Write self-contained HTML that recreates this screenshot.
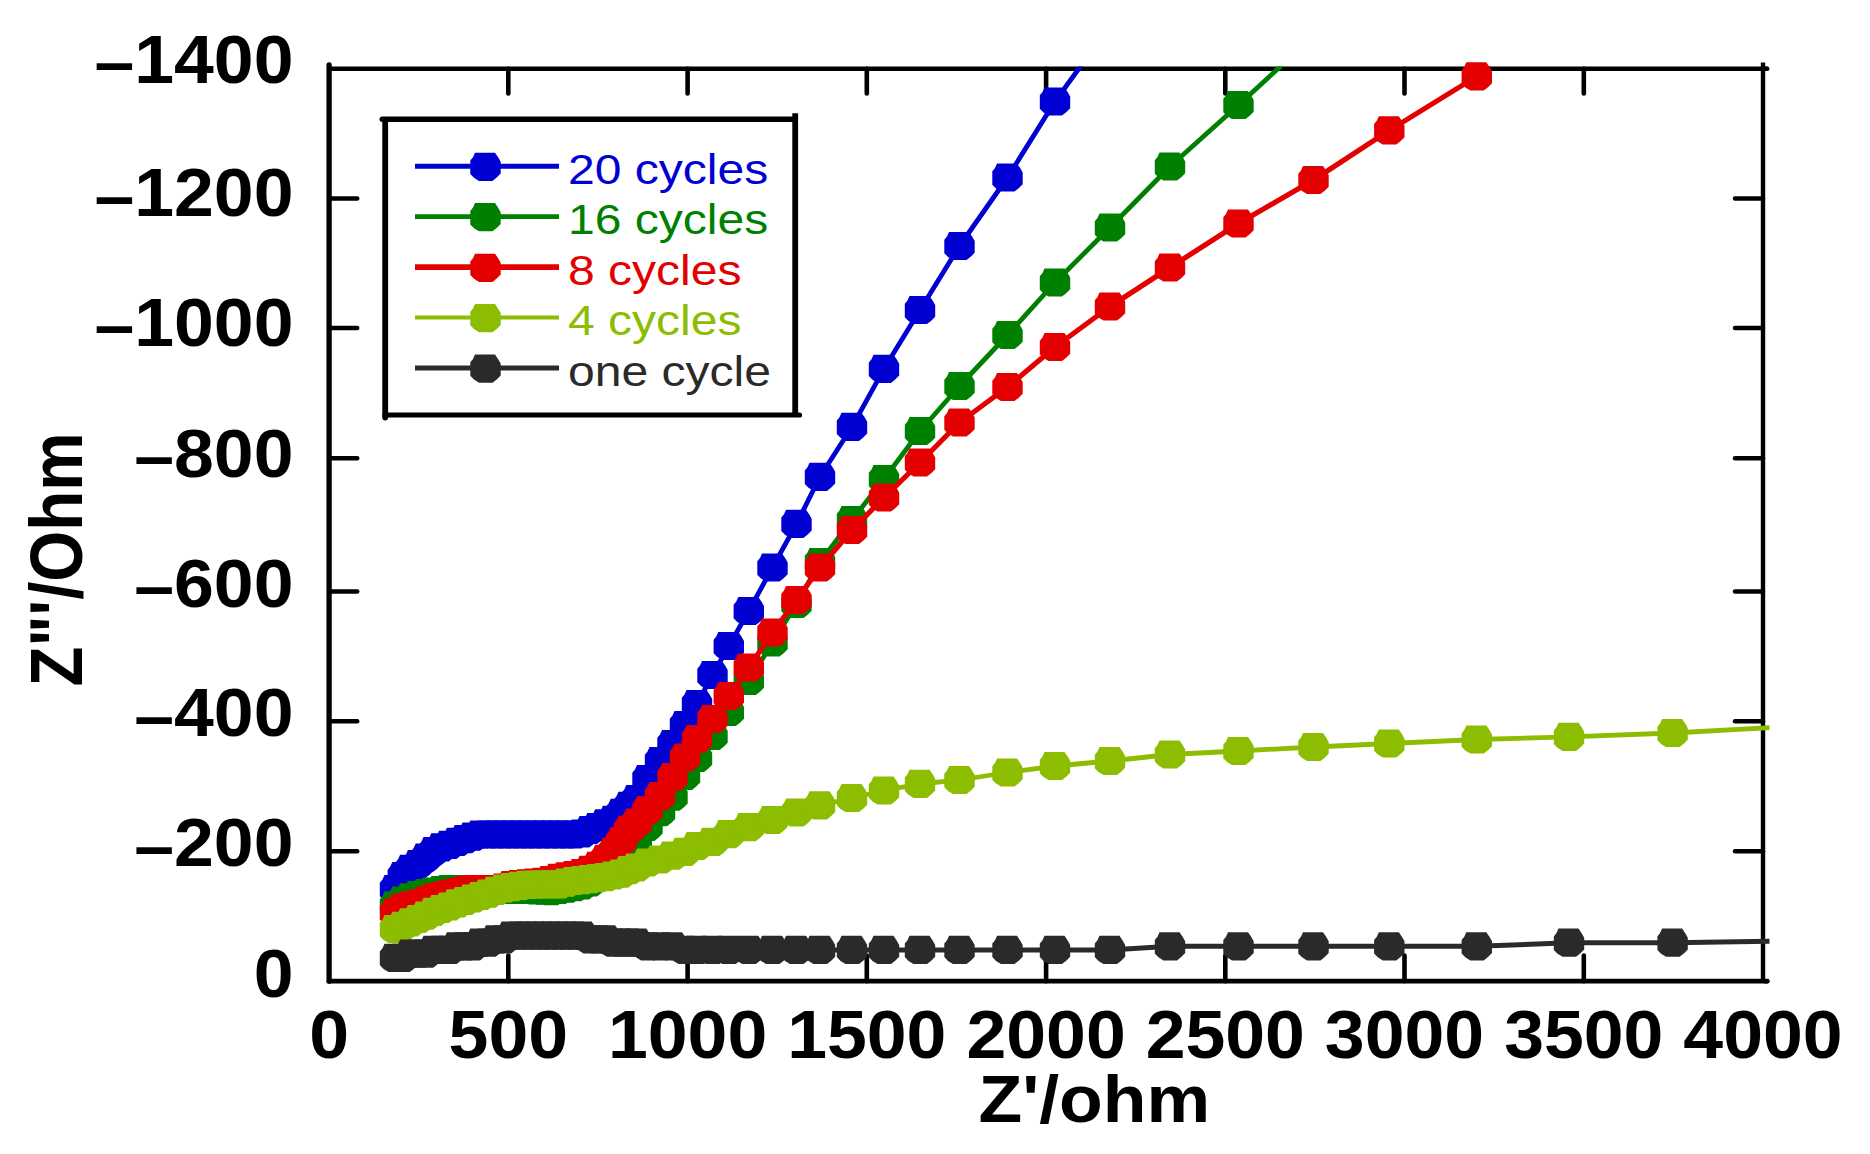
<!DOCTYPE html>
<html lang="en"><head><meta charset="utf-8"><title>Nyquist plot</title>
<style>html,body{margin:0;padding:0;background:#fff}body{width:1870px;height:1154px;overflow:hidden}svg{display:block}text{font-family:"Liberation Sans",sans-serif}.b{font-weight:700;font-size:68px;fill:#000}.l{font-size:43.4px}</style></head><body>
<svg width="1870" height="1154" viewBox="0 0 1870 1154">
<rect width="1870" height="1154" fill="#fff"/>
<defs><clipPath id="c"><rect x="320" y="66.6" width="1449.5" height="940"/></clipPath>
<polygon id="m" points="-10.5,-14.1 9.5,-14.1 12.8,-9.2 15.2,-5 15.2,6.8 11.2,10.8 7,14.1 -6.5,14.1 -11.5,11 -15.2,7.2 -15.2,-6.3 -12.5,-9.6"/></defs>
<g stroke="#000" fill="none" stroke-linecap="butt">
<line x1="329.1" y1="65" x2="329.1" y2="981.2" stroke-width="5.3" stroke-linecap="round"/>
<line x1="1763" y1="62.5" x2="1763" y2="983" stroke-width="4.4"/>
<line x1="327" y1="68.8" x2="1767.5" y2="68.8" stroke-width="4.5" />
<line x1="329" y1="981.2" x2="1767.2" y2="981.2" stroke-width="4.7" stroke-linecap="round"/>
</g>
<g stroke="#000" fill="none" stroke-linecap="round">
<line x1="1765" y1="68.8" x2="1767.3" y2="68.8" stroke-width="4.4"/>
<line x1="1765" y1="981.2" x2="1767.2" y2="981.2" stroke-width="4.6"/>
<line x1="508.3" y1="68.8" x2="508.3" y2="93.5" stroke-width="4.6"/>
<line x1="508.3" y1="981.2" x2="508.3" y2="955.5" stroke-width="4.6"/>
<line x1="687.6" y1="68.8" x2="687.6" y2="93.5" stroke-width="4.6"/>
<line x1="687.6" y1="981.2" x2="687.6" y2="955.5" stroke-width="4.6"/>
<line x1="866.8" y1="68.8" x2="866.8" y2="93.5" stroke-width="4.6"/>
<line x1="866.8" y1="981.2" x2="866.8" y2="955.5" stroke-width="4.6"/>
<line x1="1046.1" y1="68.8" x2="1046.1" y2="93.5" stroke-width="4.6"/>
<line x1="1046.1" y1="981.2" x2="1046.1" y2="955.5" stroke-width="4.6"/>
<line x1="1225.3" y1="68.8" x2="1225.3" y2="93.5" stroke-width="4.6"/>
<line x1="1225.3" y1="981.2" x2="1225.3" y2="955.5" stroke-width="4.6"/>
<line x1="1404.5" y1="68.8" x2="1404.5" y2="93.5" stroke-width="4.6"/>
<line x1="1404.5" y1="981.2" x2="1404.5" y2="955.5" stroke-width="4.6"/>
<line x1="1583.8" y1="68.8" x2="1583.8" y2="93.5" stroke-width="4.6"/>
<line x1="1583.8" y1="981.2" x2="1583.8" y2="955.5" stroke-width="4.6"/>
<line x1="329.1" y1="851.3" x2="357.2" y2="851.3" stroke-width="4.5"/>
<line x1="1763" y1="851.3" x2="1735" y2="851.3" stroke-width="4.5"/>
<line x1="329.1" y1="721.2" x2="357.2" y2="721.2" stroke-width="4.5"/>
<line x1="1763" y1="721.2" x2="1735" y2="721.2" stroke-width="4.5"/>
<line x1="329.1" y1="591.5" x2="357.2" y2="591.5" stroke-width="4.5"/>
<line x1="1763" y1="591.5" x2="1735" y2="591.5" stroke-width="4.5"/>
<line x1="329.1" y1="458.3" x2="357.2" y2="458.3" stroke-width="4.5"/>
<line x1="1763" y1="458.3" x2="1735" y2="458.3" stroke-width="4.5"/>
<line x1="329.1" y1="327.9" x2="357.2" y2="327.9" stroke-width="4.5"/>
<line x1="1763" y1="327.9" x2="1735" y2="327.9" stroke-width="4.5"/>
<line x1="329.1" y1="198.4" x2="357.2" y2="198.4" stroke-width="4.5"/>
<line x1="1763" y1="198.4" x2="1735" y2="198.4" stroke-width="4.5"/>
</g>
<g class="b">
<text transform="translate(329.1,1057.8) scale(1.053,1)" text-anchor="middle">0</text>
<text transform="translate(508.3,1057.8) scale(1.053,1)" text-anchor="middle">500</text>
<text transform="translate(687.6,1057.8) scale(1.053,1)" text-anchor="middle">1000</text>
<text transform="translate(866.8,1057.8) scale(1.053,1)" text-anchor="middle">1500</text>
<text transform="translate(1046.1,1057.8) scale(1.053,1)" text-anchor="middle">2000</text>
<text transform="translate(1225.3,1057.8) scale(1.053,1)" text-anchor="middle">2500</text>
<text transform="translate(1404.5,1057.8) scale(1.053,1)" text-anchor="middle">3000</text>
<text transform="translate(1583.8,1057.8) scale(1.053,1)" text-anchor="middle">3500</text>
<text transform="translate(1763,1057.8) scale(1.053,1)" text-anchor="middle">4000</text>
<text transform="translate(293.5,83.2) scale(1.053,1)" text-anchor="end"><tspan dy="2.2">–</tspan><tspan dy="-2.2">1400</tspan></text>
<text transform="translate(293.5,216.3) scale(1.053,1)" text-anchor="end"><tspan dy="2.2">–</tspan><tspan dy="-2.2">1200</tspan></text>
<text transform="translate(293.5,346.1) scale(1.053,1)" text-anchor="end"><tspan dy="2.2">–</tspan><tspan dy="-2.2">1000</tspan></text>
<text transform="translate(293.5,476.8) scale(1.053,1)" text-anchor="end"><tspan dy="2.2">–</tspan><tspan dy="-2.2">800</tspan></text>
<text transform="translate(293.5,606.8) scale(1.053,1)" text-anchor="end"><tspan dy="2.2">–</tspan><tspan dy="-2.2">600</tspan></text>
<text transform="translate(293.5,736.3) scale(1.053,1)" text-anchor="end"><tspan dy="2.2">–</tspan><tspan dy="-2.2">400</tspan></text>
<text transform="translate(293.5,866.3) scale(1.053,1)" text-anchor="end"><tspan dy="2.2">–</tspan><tspan dy="-2.2">200</tspan></text>
<text transform="translate(293.5,996.6) scale(1.053,1)" text-anchor="end">0</text>
<text transform="translate(1094.3,1121.7) scale(1.077,1)" text-anchor="middle" style="font-size:66.5px">Z'/ohm</text>
<text transform="translate(82.3,559.5) scale(1.127,1) rotate(-90)" text-anchor="middle" style="font-size:65.5px">Z"'/Ohm</text>
</g>
<g fill="#0000d2" stroke="none">
<polyline clip-path="url(#c)" points="395,889 402.8,876 410.6,868.8 418.4,864 426.2,857.7 434,851.1 441.8,847.3 449.6,844.8 457.4,841.9 465.2,839.2 473,836.7 480.8,834.5 488.6,834.5 496.4,834.5 504.2,834.5 512,834.5 519.8,834.5 527.6,834.5 535.4,834.5 543.2,834.5 551,834.5 558.8,834.5 566.6,834.5 574.4,834.5 582.2,833.5 590,830 597.8,827.1 605.6,823.3 613.4,819.8 621.2,812.8 629,805.8 636.8,799 647.5,779 660,761 672.5,744 685,725 697,704 712.5,675 728.8,646 748.8,611 772.5,567.5 796.5,523.8 820,476.8 852,426.8 884,368.8 920,310 959.5,246 1007.5,177.5 1055,101.5 1110,25.6 1170,-60 1238.5,-151.3 1313.5,-251.3 1389.3,-352.4 1476.8,-469.1 1569,-592 1672.6,-730.1 1790,-886.7" fill="none" stroke="#0000d2" stroke-width="4.8" stroke-linejoin="round"/>
<use href="#m" x="395" y="889"/>
<use href="#m" x="402.8" y="876"/>
<use href="#m" x="410.6" y="868.8"/>
<use href="#m" x="418.4" y="864"/>
<use href="#m" x="426.2" y="857.7"/>
<use href="#m" x="434" y="851.1"/>
<use href="#m" x="441.8" y="847.3"/>
<use href="#m" x="449.6" y="844.8"/>
<use href="#m" x="457.4" y="841.9"/>
<use href="#m" x="465.2" y="839.2"/>
<use href="#m" x="473" y="836.7"/>
<use href="#m" x="480.8" y="834.5"/>
<use href="#m" x="488.6" y="834.5"/>
<use href="#m" x="496.4" y="834.5"/>
<use href="#m" x="504.2" y="834.5"/>
<use href="#m" x="512" y="834.5"/>
<use href="#m" x="519.8" y="834.5"/>
<use href="#m" x="527.6" y="834.5"/>
<use href="#m" x="535.4" y="834.5"/>
<use href="#m" x="543.2" y="834.5"/>
<use href="#m" x="551" y="834.5"/>
<use href="#m" x="558.8" y="834.5"/>
<use href="#m" x="566.6" y="834.5"/>
<use href="#m" x="574.4" y="834.5"/>
<use href="#m" x="582.2" y="833.5"/>
<use href="#m" x="590" y="830"/>
<use href="#m" x="597.8" y="827.1"/>
<use href="#m" x="605.6" y="823.3"/>
<use href="#m" x="613.4" y="819.8"/>
<use href="#m" x="621.2" y="812.8"/>
<use href="#m" x="629" y="805.8"/>
<use href="#m" x="636.8" y="799"/>
<use href="#m" x="647.5" y="779"/>
<use href="#m" x="660" y="761"/>
<use href="#m" x="672.5" y="744"/>
<use href="#m" x="685" y="725"/>
<use href="#m" x="697" y="704"/>
<use href="#m" x="712.5" y="675"/>
<use href="#m" x="728.8" y="646"/>
<use href="#m" x="748.8" y="611"/>
<use href="#m" x="772.5" y="567.5"/>
<use href="#m" x="796.5" y="523.8"/>
<use href="#m" x="820" y="476.8"/>
<use href="#m" x="852" y="426.8"/>
<use href="#m" x="884" y="368.8"/>
<use href="#m" x="920" y="310"/>
<use href="#m" x="959.5" y="246"/>
<use href="#m" x="1007.5" y="177.5"/>
<use href="#m" x="1055" y="101.5"/>
</g>
<g fill="#008000" stroke="none">
<polyline clip-path="url(#c)" points="395,905.5 402.8,900.7 410.6,897.4 418.4,895.1 426.2,893 434,891.5 441.8,890.2 449.6,889.1 457.4,889.2 465.2,889.3 473,889.4 480.8,889.5 488.6,889.5 496.4,889.6 504.2,889.7 512,889.8 519.8,889.9 527.6,890 535.4,890.3 543.2,890.7 551,891.2 558.8,890 566.6,888.7 574.4,887.2 582.2,885.3 590,882.4 597.8,876.9 605.6,870.7 613.4,863.6 621.2,856.1 629,849.2 636.8,841.9 647.5,826.8 660,812.1 672.5,796.6 685,775.8 697,758 712.5,736 728.8,712 748.8,681 772.5,642.5 796.5,604 820,562 852,520 884,479 920,431 959.5,386 1007.5,335 1055,282.5 1110,227.5 1170,166.5 1238.5,105 1313.5,36 1389.3,-31.9 1476.8,-110.3 1569,-193 1672.6,-285.8 1790,-391" fill="none" stroke="#008000" stroke-width="4.8" stroke-linejoin="round"/>
<use href="#m" x="395" y="905.5"/>
<use href="#m" x="402.8" y="900.7"/>
<use href="#m" x="410.6" y="897.4"/>
<use href="#m" x="418.4" y="895.1"/>
<use href="#m" x="426.2" y="893"/>
<use href="#m" x="434" y="891.5"/>
<use href="#m" x="441.8" y="890.2"/>
<use href="#m" x="449.6" y="889.1"/>
<use href="#m" x="457.4" y="889.2"/>
<use href="#m" x="465.2" y="889.3"/>
<use href="#m" x="473" y="889.4"/>
<use href="#m" x="480.8" y="889.5"/>
<use href="#m" x="488.6" y="889.5"/>
<use href="#m" x="496.4" y="889.6"/>
<use href="#m" x="504.2" y="889.7"/>
<use href="#m" x="512" y="889.8"/>
<use href="#m" x="519.8" y="889.9"/>
<use href="#m" x="527.6" y="890"/>
<use href="#m" x="535.4" y="890.3"/>
<use href="#m" x="543.2" y="890.7"/>
<use href="#m" x="551" y="891.2"/>
<use href="#m" x="558.8" y="890"/>
<use href="#m" x="566.6" y="888.7"/>
<use href="#m" x="574.4" y="887.2"/>
<use href="#m" x="582.2" y="885.3"/>
<use href="#m" x="590" y="882.4"/>
<use href="#m" x="597.8" y="876.9"/>
<use href="#m" x="605.6" y="870.7"/>
<use href="#m" x="613.4" y="863.6"/>
<use href="#m" x="621.2" y="856.1"/>
<use href="#m" x="629" y="849.2"/>
<use href="#m" x="636.8" y="841.9"/>
<use href="#m" x="647.5" y="826.8"/>
<use href="#m" x="660" y="812.1"/>
<use href="#m" x="672.5" y="796.6"/>
<use href="#m" x="685" y="775.8"/>
<use href="#m" x="697" y="758"/>
<use href="#m" x="712.5" y="736"/>
<use href="#m" x="728.8" y="712"/>
<use href="#m" x="748.8" y="681"/>
<use href="#m" x="772.5" y="642.5"/>
<use href="#m" x="796.5" y="604"/>
<use href="#m" x="820" y="562"/>
<use href="#m" x="852" y="520"/>
<use href="#m" x="884" y="479"/>
<use href="#m" x="920" y="431"/>
<use href="#m" x="959.5" y="386"/>
<use href="#m" x="1007.5" y="335"/>
<use href="#m" x="1055" y="282.5"/>
<use href="#m" x="1110" y="227.5"/>
<use href="#m" x="1170" y="166.5"/>
<use href="#m" x="1238.5" y="105"/>
</g>
<g fill="#e40000" stroke="none">
<polyline clip-path="url(#c)" points="395,912.5 402.8,907.5 410.6,905.5 418.4,903.6 426.2,900.6 434,897.6 441.8,895.5 449.6,893.9 457.4,892.2 465.2,890.1 473,889.1 480.8,889.1 488.6,889 496.4,889 504.2,887.6 512,885.1 519.8,884.1 527.6,883.3 535.4,882.6 543.2,881.8 551,880 558.8,877.8 566.6,876.4 574.4,875.2 582.2,873.2 590,869.8 597.8,865.9 605.6,858.8 613.4,851.5 621.2,841.1 629,829.9 636.8,822.6 647.5,810.1 660,796.2 672.5,777.1 685,757.5 697,739 712.5,719 728.8,696 748.8,667.5 772.5,632.5 796.5,600 820,567.5 852,530 884,497.5 920,462.5 959.5,422.5 1007.5,387 1055,347 1110,306.5 1170,267.5 1238.5,223.5 1313.5,180 1389.3,130.4 1476.8,76.4 1569,-10 1672.6,-63.8 1790,-124.8" fill="none" stroke="#e40000" stroke-width="5.2" stroke-linejoin="round"/>
<use href="#m" x="395" y="912.5"/>
<use href="#m" x="402.8" y="907.5"/>
<use href="#m" x="410.6" y="905.5"/>
<use href="#m" x="418.4" y="903.6"/>
<use href="#m" x="426.2" y="900.6"/>
<use href="#m" x="434" y="897.6"/>
<use href="#m" x="441.8" y="895.5"/>
<use href="#m" x="449.6" y="893.9"/>
<use href="#m" x="457.4" y="892.2"/>
<use href="#m" x="465.2" y="890.1"/>
<use href="#m" x="473" y="889.1"/>
<use href="#m" x="480.8" y="889.1"/>
<use href="#m" x="488.6" y="889"/>
<use href="#m" x="496.4" y="889"/>
<use href="#m" x="504.2" y="887.6"/>
<use href="#m" x="512" y="885.1"/>
<use href="#m" x="519.8" y="884.1"/>
<use href="#m" x="527.6" y="883.3"/>
<use href="#m" x="535.4" y="882.6"/>
<use href="#m" x="543.2" y="881.8"/>
<use href="#m" x="551" y="880"/>
<use href="#m" x="558.8" y="877.8"/>
<use href="#m" x="566.6" y="876.4"/>
<use href="#m" x="574.4" y="875.2"/>
<use href="#m" x="582.2" y="873.2"/>
<use href="#m" x="590" y="869.8"/>
<use href="#m" x="597.8" y="865.9"/>
<use href="#m" x="605.6" y="858.8"/>
<use href="#m" x="613.4" y="851.5"/>
<use href="#m" x="621.2" y="841.1"/>
<use href="#m" x="629" y="829.9"/>
<use href="#m" x="636.8" y="822.6"/>
<use href="#m" x="647.5" y="810.1"/>
<use href="#m" x="660" y="796.2"/>
<use href="#m" x="672.5" y="777.1"/>
<use href="#m" x="685" y="757.5"/>
<use href="#m" x="697" y="739"/>
<use href="#m" x="712.5" y="719"/>
<use href="#m" x="728.8" y="696"/>
<use href="#m" x="748.8" y="667.5"/>
<use href="#m" x="772.5" y="632.5"/>
<use href="#m" x="796.5" y="600"/>
<use href="#m" x="820" y="567.5"/>
<use href="#m" x="852" y="530"/>
<use href="#m" x="884" y="497.5"/>
<use href="#m" x="920" y="462.5"/>
<use href="#m" x="959.5" y="422.5"/>
<use href="#m" x="1007.5" y="387"/>
<use href="#m" x="1055" y="347"/>
<use href="#m" x="1110" y="306.5"/>
<use href="#m" x="1170" y="267.5"/>
<use href="#m" x="1238.5" y="223.5"/>
<use href="#m" x="1313.5" y="180"/>
<use href="#m" x="1389.3" y="130.4"/>
<use href="#m" x="1476.8" y="76.4"/>
</g>
<g fill="#8cbd00" stroke="none">
<polyline clip-path="url(#c)" points="395,929 402.8,925.9 410.6,922.3 418.4,919 426.2,915.6 434,911.9 441.8,909 449.6,906.5 457.4,903.4 465.2,901 473,898.5 480.8,896 488.6,893.6 496.4,890.9 504.2,888.5 512,887.2 519.8,885.8 527.6,884.8 535.4,884.7 543.2,884.5 551,884.4 558.8,884.3 566.6,882.6 574.4,881 582.2,880.1 590,879.1 597.8,878.2 605.6,877.1 613.4,875.5 621.2,873.6 629,870.1 636.8,867.5 647.5,862.5 660,859.5 672.5,855.7 685,851.8 697,846 712.5,841.9 728.8,834.2 748.8,827.1 772.5,820 796.5,812.5 820,805.3 852,798 884,790.5 920,783.8 959.5,780 1007.5,772.5 1055,766 1110,761 1170,754.5 1238.5,751 1313.5,747 1389.3,743.5 1476.8,739.5 1569,736.8 1672.6,733 1790,726.6" fill="none" stroke="#8cbd00" stroke-width="4.8" stroke-linejoin="round"/>
<use href="#m" x="395" y="929"/>
<use href="#m" x="402.8" y="925.9"/>
<use href="#m" x="410.6" y="922.3"/>
<use href="#m" x="418.4" y="919"/>
<use href="#m" x="426.2" y="915.6"/>
<use href="#m" x="434" y="911.9"/>
<use href="#m" x="441.8" y="909"/>
<use href="#m" x="449.6" y="906.5"/>
<use href="#m" x="457.4" y="903.4"/>
<use href="#m" x="465.2" y="901"/>
<use href="#m" x="473" y="898.5"/>
<use href="#m" x="480.8" y="896"/>
<use href="#m" x="488.6" y="893.6"/>
<use href="#m" x="496.4" y="890.9"/>
<use href="#m" x="504.2" y="888.5"/>
<use href="#m" x="512" y="887.2"/>
<use href="#m" x="519.8" y="885.8"/>
<use href="#m" x="527.6" y="884.8"/>
<use href="#m" x="535.4" y="884.7"/>
<use href="#m" x="543.2" y="884.5"/>
<use href="#m" x="551" y="884.4"/>
<use href="#m" x="558.8" y="884.3"/>
<use href="#m" x="566.6" y="882.6"/>
<use href="#m" x="574.4" y="881"/>
<use href="#m" x="582.2" y="880.1"/>
<use href="#m" x="590" y="879.1"/>
<use href="#m" x="597.8" y="878.2"/>
<use href="#m" x="605.6" y="877.1"/>
<use href="#m" x="613.4" y="875.5"/>
<use href="#m" x="621.2" y="873.6"/>
<use href="#m" x="629" y="870.1"/>
<use href="#m" x="636.8" y="867.5"/>
<use href="#m" x="647.5" y="862.5"/>
<use href="#m" x="660" y="859.5"/>
<use href="#m" x="672.5" y="855.7"/>
<use href="#m" x="685" y="851.8"/>
<use href="#m" x="697" y="846"/>
<use href="#m" x="712.5" y="841.9"/>
<use href="#m" x="728.8" y="834.2"/>
<use href="#m" x="748.8" y="827.1"/>
<use href="#m" x="772.5" y="820"/>
<use href="#m" x="796.5" y="812.5"/>
<use href="#m" x="820" y="805.3"/>
<use href="#m" x="852" y="798"/>
<use href="#m" x="884" y="790.5"/>
<use href="#m" x="920" y="783.8"/>
<use href="#m" x="959.5" y="780"/>
<use href="#m" x="1007.5" y="772.5"/>
<use href="#m" x="1055" y="766"/>
<use href="#m" x="1110" y="761"/>
<use href="#m" x="1170" y="754.5"/>
<use href="#m" x="1238.5" y="751"/>
<use href="#m" x="1313.5" y="747"/>
<use href="#m" x="1389.3" y="743.5"/>
<use href="#m" x="1476.8" y="739.5"/>
<use href="#m" x="1569" y="736.8"/>
<use href="#m" x="1672.6" y="733"/>
</g>
<g fill="#2a2a2a" stroke="none">
<polyline clip-path="url(#c)" points="395,957.9 402.8,957.9 410.6,953.6 418.4,953.6 426.2,953.6 434,949.9 441.8,949.9 449.6,949.9 457.4,946.3 465.2,946.3 473,946.3 480.8,942.7 488.6,942.7 496.4,939.3 504.2,939.3 512,935.6 519.8,935.6 527.6,935.6 535.4,935.6 543.2,935.6 551,935.6 558.8,935.6 566.6,935.6 574.4,935.6 582.2,935.6 590,939.3 597.8,939.3 605.6,939.3 613.4,942.7 621.2,942.7 629,942.7 636.8,942.7 647.5,946.3 660,946.3 672.5,946.3 685,949.9 697,949.9 712.5,949.9 728.8,949.9 748.8,949.9 772.5,949.9 796.5,949.9 820,949.9 852,949.9 884,949.9 920,949.9 959.5,949.9 1007.5,949.9 1055,949.9 1110,949.9 1170,946.3 1238.5,946.3 1313.5,946.3 1389.3,946.3 1476.8,946.3 1569,942.7 1672.6,942.7 1790,941" fill="none" stroke="#2a2a2a" stroke-width="5.0" stroke-linejoin="round"/>
<use href="#m" x="395" y="957.9"/>
<use href="#m" x="402.8" y="957.9"/>
<use href="#m" x="410.6" y="953.6"/>
<use href="#m" x="418.4" y="953.6"/>
<use href="#m" x="426.2" y="953.6"/>
<use href="#m" x="434" y="949.9"/>
<use href="#m" x="441.8" y="949.9"/>
<use href="#m" x="449.6" y="949.9"/>
<use href="#m" x="457.4" y="946.3"/>
<use href="#m" x="465.2" y="946.3"/>
<use href="#m" x="473" y="946.3"/>
<use href="#m" x="480.8" y="942.7"/>
<use href="#m" x="488.6" y="942.7"/>
<use href="#m" x="496.4" y="939.3"/>
<use href="#m" x="504.2" y="939.3"/>
<use href="#m" x="512" y="935.6"/>
<use href="#m" x="519.8" y="935.6"/>
<use href="#m" x="527.6" y="935.6"/>
<use href="#m" x="535.4" y="935.6"/>
<use href="#m" x="543.2" y="935.6"/>
<use href="#m" x="551" y="935.6"/>
<use href="#m" x="558.8" y="935.6"/>
<use href="#m" x="566.6" y="935.6"/>
<use href="#m" x="574.4" y="935.6"/>
<use href="#m" x="582.2" y="935.6"/>
<use href="#m" x="590" y="939.3"/>
<use href="#m" x="597.8" y="939.3"/>
<use href="#m" x="605.6" y="939.3"/>
<use href="#m" x="613.4" y="942.7"/>
<use href="#m" x="621.2" y="942.7"/>
<use href="#m" x="629" y="942.7"/>
<use href="#m" x="636.8" y="942.7"/>
<use href="#m" x="647.5" y="946.3"/>
<use href="#m" x="660" y="946.3"/>
<use href="#m" x="672.5" y="946.3"/>
<use href="#m" x="685" y="949.9"/>
<use href="#m" x="697" y="949.9"/>
<use href="#m" x="712.5" y="949.9"/>
<use href="#m" x="728.8" y="949.9"/>
<use href="#m" x="748.8" y="949.9"/>
<use href="#m" x="772.5" y="949.9"/>
<use href="#m" x="796.5" y="949.9"/>
<use href="#m" x="820" y="949.9"/>
<use href="#m" x="852" y="949.9"/>
<use href="#m" x="884" y="949.9"/>
<use href="#m" x="920" y="949.9"/>
<use href="#m" x="959.5" y="949.9"/>
<use href="#m" x="1007.5" y="949.9"/>
<use href="#m" x="1055" y="949.9"/>
<use href="#m" x="1110" y="949.9"/>
<use href="#m" x="1170" y="946.3"/>
<use href="#m" x="1238.5" y="946.3"/>
<use href="#m" x="1313.5" y="946.3"/>
<use href="#m" x="1389.3" y="946.3"/>
<use href="#m" x="1476.8" y="946.3"/>
<use href="#m" x="1569" y="942.7"/>
<use href="#m" x="1672.6" y="942.7"/>
</g>
<g stroke="#000" fill="none" stroke-width="5.3" stroke-linecap="butt">
<line x1="382.3" y1="119.2" x2="795" y2="119.2" stroke-width="5.5" stroke-linecap="round"/>
<line x1="795.2" y1="113.2" x2="795.2" y2="417" stroke-width="5.8"/>
<line x1="385" y1="415" x2="799.5" y2="415" stroke-width="5.2" stroke-linecap="round"/>
<line x1="385.2" y1="121" x2="385.2" y2="417.5" stroke-width="5.8" stroke-linecap="round"/>
</g>
<g fill="#0000d2"><line x1="415" y1="166.2" x2="559" y2="166.2" stroke="#0000d2" stroke-width="5.0"/><use href="#m" x="485.5" y="166.8"/><text class="l" transform="translate(568,183.8) scale(1.107,1)">20 cycles</text></g>
<g fill="#008000"><line x1="415" y1="216.6" x2="559" y2="216.6" stroke="#008000" stroke-width="4.6"/><use href="#m" x="485.5" y="217.2"/><text class="l" transform="translate(568,234.2) scale(1.107,1)">16 cycles</text></g>
<g fill="#e40000"><line x1="415" y1="267.2" x2="559" y2="267.2" stroke="#e40000" stroke-width="5.7"/><use href="#m" x="485.5" y="267.8"/><text class="l" transform="translate(568,284.8) scale(1.107,1)">8 cycles</text></g>
<g fill="#8cbd00"><line x1="415" y1="317.5" x2="559" y2="317.5" stroke="#8cbd00" stroke-width="4.1"/><use href="#m" x="485.5" y="318.1"/><text class="l" transform="translate(568,335.1) scale(1.107,1)">4 cycles</text></g>
<g fill="#2a2a2a"><line x1="415" y1="368" x2="559" y2="368" stroke="#2a2a2a" stroke-width="5.1"/><use href="#m" x="485.5" y="368.6"/><text class="l" transform="translate(568,385.6) scale(1.107,1)">one cycle</text></g>
</svg></body></html>
